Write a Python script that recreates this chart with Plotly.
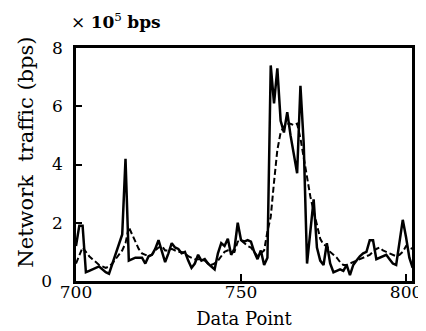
import plotly.graph_objects as go

x_points = list(range(700, 803))

actual = [
    1.2, 1.9, 1.9, 0.3, 0.35, 0.4, 0.45, 0.5, 0.4, 0.3,      # 700-709
    0.25, 0.6, 0.95, 1.3, 1.6, 4.2, 0.7, 0.75, 0.8, 0.8,     # 710-719
    0.8, 0.6, 0.85, 0.9, 1.1, 1.4, 1.0, 0.65, 0.95, 1.3,     # 720-729
    1.15, 1.1, 0.95, 1.0, 0.7, 0.45, 0.6, 0.9, 0.7, 0.75,    # 730-739
    0.6, 0.5, 0.4, 0.95, 1.3, 1.2, 1.45, 0.9, 1.1, 2.0,      # 740-749
    1.4, 1.35, 1.4, 1.35, 1.0, 0.75, 1.05, 0.55, 0.8, 7.4,   # 750-759
    6.1, 7.3, 5.5, 5.1, 5.8, 5.0, 4.4, 3.7, 6.7, 4.7,        # 760-769
    0.6, 1.8, 2.8, 1.15, 0.7, 0.55, 1.3, 0.6, 0.3, 0.35,     # 770-779
    0.4, 0.35, 0.55, 0.2, 0.55, 0.7, 0.85, 0.95, 1.0, 1.4,   # 780-789
    1.4, 0.75, 0.8, 0.85, 0.9, 0.75, 0.6, 0.55, 1.3, 2.1,    # 790-799
    1.5, 0.8, 0.45,                                           # 800-802
]

predicted = [
    0.6, 0.9, 1.15, 1.0, 0.85, 0.75, 0.65, 0.55, 0.5, 0.45,  # 700-709
    0.5, 0.6, 0.75, 0.9, 1.05, 1.3, 1.85, 1.6, 1.35, 1.1,    # 710-719
    0.95, 0.9, 0.85, 0.9, 1.05, 1.15, 1.2, 1.05, 1.05, 1.1,  # 720-729
    1.05, 1.0, 1.0, 0.95, 0.85, 0.8, 0.75, 0.75, 0.75, 0.7,  # 730-739
    0.6, 0.55, 0.6, 0.7, 0.85, 1.0, 1.05, 1.0, 1.0, 1.35,    # 740-749
    1.4, 1.3, 1.2, 1.15, 1.0, 0.85, 0.95, 1.05, 1.7, 2.2,    # 750-759
    3.4, 4.5, 5.1, 5.3, 5.4, 5.4, 5.35, 5.4, 4.9, 4.2,       # 760-769
    3.5, 2.9, 2.4, 1.9, 1.45, 1.25, 1.2, 1.0, 0.9, 0.8,      # 770-779
    0.65, 0.55, 0.55, 0.6, 0.65, 0.7, 0.75, 0.8, 0.85, 0.9,  # 780-789
    1.0, 1.1, 1.15, 1.05, 1.0, 0.95, 0.9, 0.85, 0.9, 1.0,    # 790-799
    1.2, 1.15, 1.1,                                           # 800-802
]

x_ticks = [700, 750, 800]
x_tick_text = ["700", "750", "800"]
y_ticks = [0, 2, 4, 6, 8]
y_tick_text = ["0\u00a0\u00a0", "2", "4", "6", "8"]

FONT = "DejaVu Serif"

# layout geometry (pixels)
W, H = 426, 331
L, R, T, B = 68, 16, 40, 53
plot_w = W - L - R
plot_h = H - T - B


def px_to_paper(px, py):
    return (px - L) / plot_w, (H - B - py) / plot_h


fig = go.Figure()
fig.add_trace(go.Scatter(x=x_points, y=predicted, mode="lines",
                         line=dict(color="black", width=2, dash="6px,3px")))
fig.add_trace(go.Scatter(x=x_points, y=actual, mode="lines",
                         line=dict(color="black", width=2.5)))

ytitle_x, ytitle_y = px_to_paper(17, 146)
unit_x, unit_y = px_to_paper(61, 12)

fig.update_layout(
    width=W, height=H,
    margin=dict(l=L, r=R, t=T, b=B),
    paper_bgcolor="white", plot_bgcolor="white",
    showlegend=False,
    font=dict(family=FONT, color="black", size=17),
    xaxis=dict(range=[700, 801.8], tickvals=x_ticks, ticktext=x_tick_text,
               showgrid=False, zeroline=False, showline=True, linecolor="black",
               linewidth=2.5, mirror=True, ticks="inside", ticklen=7, tickwidth=1.5,
               tickcolor="black", tickfont=dict(size=17), ticklabelstandoff=-6,
               title=dict(text="Data Point", font=dict(size=18), standoff=12)),
    yaxis=dict(range=[0, 8], tickvals=y_ticks, ticktext=y_tick_text,
               showgrid=False, zeroline=False, showline=True, linecolor="black",
               linewidth=2.5, mirror=True, ticks="inside", ticklen=6, tickwidth=1.5,
               tickcolor="black", tickfont=dict(size=17), ticklabelstandoff=7),
    annotations=[
        dict(text="× <b>10</b><sup>5</sup> <b>bps</b>", x=unit_x, y=unit_y,
             xref="paper", yref="paper", xanchor="left", yanchor="middle",
             showarrow=False, font=dict(family=FONT, size=17, color="black")),
        dict(text="Network  traffic (bps)", x=ytitle_x, y=ytitle_y,
             xref="paper", yref="paper", xanchor="center", yanchor="middle",
             textangle=-90, showarrow=False,
             font=dict(family=FONT, size=21, color="black")),
    ],
)

fig.write_html("out.html")
